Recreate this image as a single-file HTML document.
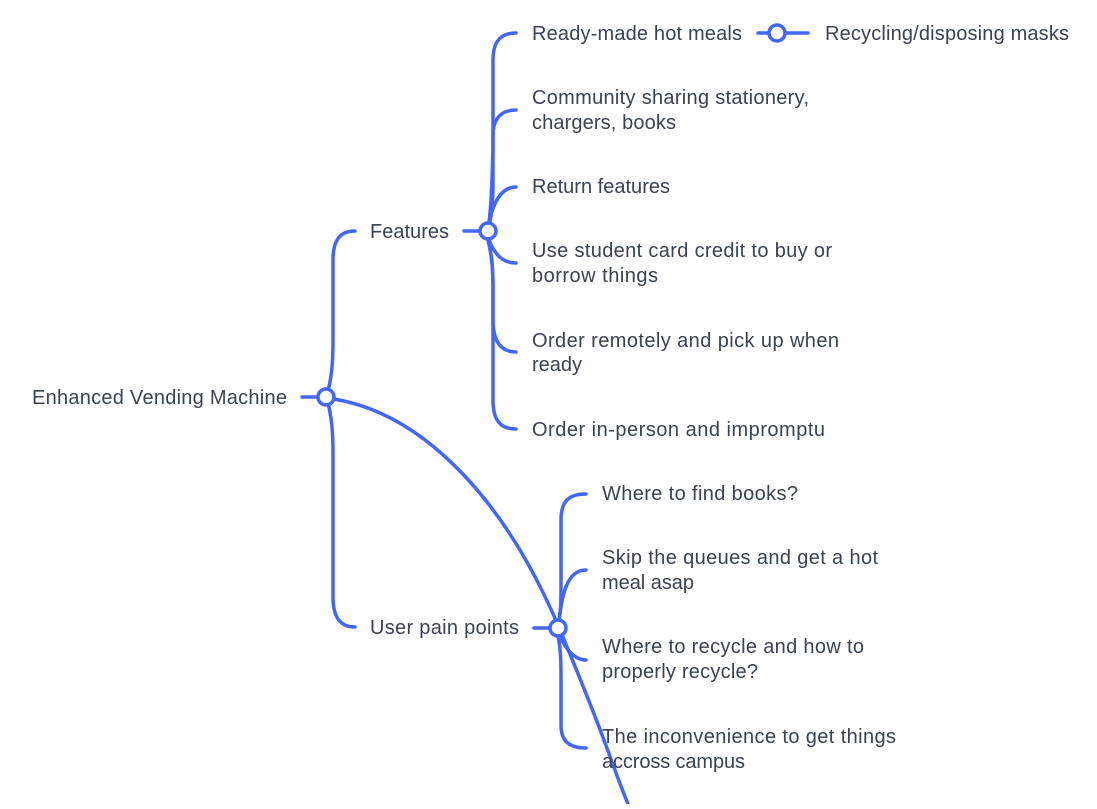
<!DOCTYPE html>
<html><head><style>
html,body{margin:0;padding:0;background:#fff;}
svg text{font-family:"Liberation Sans",sans-serif;font-size:20px;fill:#3b4250;}
</style></head><body>
<svg width="1097" height="804" viewBox="0 0 1097 804" xmlns="http://www.w3.org/2000/svg">
<g fill="none" stroke="#4466f8" stroke-width="3.5" stroke-linecap="round">
<line x1="302" y1="397" x2="318" y2="397"/>
<path d="M326,397 C332,380 333,360 333,340 L333,260 C333,240 340,231 355,231"/>
<path d="M326,397 C332,414 333,434 333,454 L333,597 C333,617 340,627 355,627"/>
<path d="M334,399 C430,415 510,510 560,630 S610,760 628,804"/>
<line x1="464" y1="231" x2="479" y2="231"/>
<path d="M488,231 C492,215 493,200 493,185 L493,60 C493,42 500,33 516,33"/>
<path d="M489,222 C492,200 493,150 493,135 C493,120 500,110 516,110"/>
<path d="M489,222 C493,205 500,187 516,187"/>
<path d="M489,240 C495,255 503,263 516,263"/>
<path d="M488,240 C492,255 493,270 493,290 L493,320 C493,340 500,352 516,352"/>
<path d="M488,240 C492,255 493,270 493,290 L493,400 C493,420 500,429 516,429"/>
<line x1="758" y1="33" x2="769" y2="33"/>
<line x1="786" y1="33" x2="808" y2="33"/>
<line x1="534" y1="628" x2="549" y2="628"/>
<path d="M558,628 C561,612 561,600 561,585 L561,520 C561,502 568,494 586,494"/>
<path d="M559,620 C562,600 565,570 586,570"/>
<path d="M560,636 C566,650 575,660 586,660"/>
<path d="M558,636 C561,650 561,665 561,680 L561,725 C561,740 568,748 586,748"/>
</g>
<g fill="#fff" stroke="#4466f8" stroke-width="3.5">
<circle cx="326" cy="397" r="8"/>
<circle cx="488" cy="231" r="8"/>
<circle cx="558" cy="628" r="8"/>
<circle cx="777" cy="33" r="8"/>
</g>
<text x="32" y="404" textLength="255">Enhanced Vending Machine</text>
<text x="370" y="238" textLength="79">Features</text>
<text x="370" y="634" textLength="149">User pain points</text>
<text x="532" y="40" textLength="210">Ready-made hot meals</text>
<text x="825" y="40" textLength="244">Recycling/disposing masks</text>
<text x="532" y="104" textLength="277">Community sharing stationery,</text>
<text x="532" y="129" textLength="144">chargers, books</text>
<text x="532" y="193" textLength="138">Return features</text>
<text x="532" y="257" textLength="300">Use student card credit to buy or</text>
<text x="532" y="282" textLength="126">borrow things</text>
<text x="532" y="347" textLength="307">Order remotely and pick up when</text>
<text x="532" y="371" textLength="50">ready</text>
<text x="532" y="436" textLength="293">Order in-person and impromptu</text>
<text x="602" y="500" textLength="196">Where to find books?</text>
<text x="602" y="564" textLength="276">Skip the queues and get a hot</text>
<text x="602" y="589" textLength="92">meal asap</text>
<text x="602" y="653" textLength="262">Where to recycle and how to</text>
<text x="602" y="678" textLength="156">properly recycle?</text>
<text x="602" y="743" textLength="294">The inconvenience to get things</text>
<text x="602" y="768" textLength="143">accross campus</text>
</svg>
</body></html>
